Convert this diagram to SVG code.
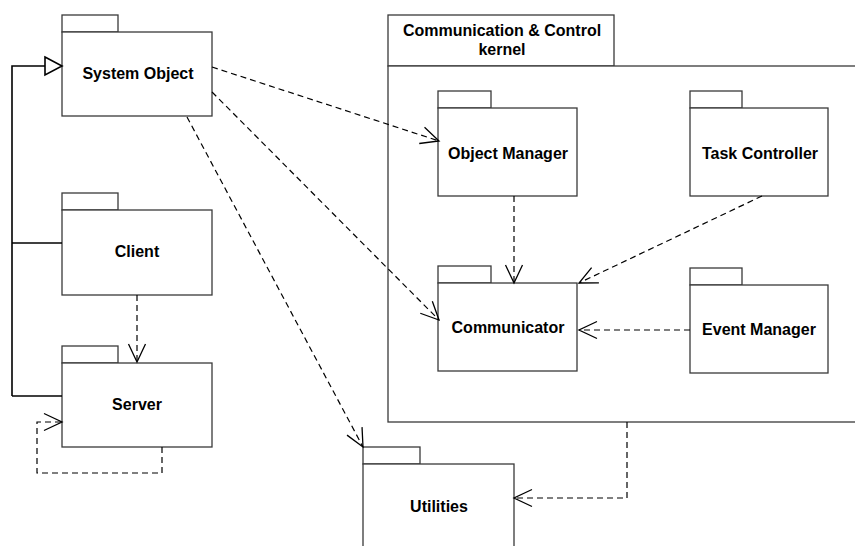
<svg xmlns="http://www.w3.org/2000/svg" width="855" height="546" viewBox="0 0 855 546">
<style>
.box{fill:#fff;stroke:#3a3a3a;stroke-width:1.3}
.lbl{font-family:"Liberation Sans",Arial,sans-serif;font-weight:bold;font-size:16px;text-anchor:middle;fill:#000}
.dep{fill:none;stroke:#000;stroke-width:1.2;stroke-dasharray:6 4}
.gen{fill:none;stroke:#000;stroke-width:1.6}
</style>
<defs>
<marker id="open" markerUnits="userSpaceOnUse" markerWidth="24" markerHeight="24" viewBox="-20 -12 24 24" refX="0" refY="0" orient="auto">
<path d="M-18,-8.5 L0,0 L-18,8.5" fill="none" stroke="#000" stroke-width="1.3" stroke-dasharray="none"/>
</marker>
</defs>
<rect x="0" y="0" width="855" height="546" fill="#fff"/>

<g id="kernel">
<rect class="box" x="388" y="15" width="226" height="51"/>
<rect class="box" x="388" y="66" width="480" height="356"/>
<text class="lbl" x="502" y="36">Communication &amp; Control</text>
<text class="lbl" x="502" y="55">kernel</text>
</g>

<g id="system-object">
<rect class="box" x="62" y="15" width="56" height="17"/>
<rect class="box" x="62" y="32" width="150" height="84"/>
<text class="lbl" x="138" y="79">System Object</text>
</g>

<g id="client">
<rect class="box" x="62" y="193" width="56" height="17"/>
<rect class="box" x="62" y="210" width="150" height="85"/>
<text class="lbl" x="137" y="257">Client</text>
</g>

<g id="server">
<rect class="box" x="62" y="346" width="56" height="17"/>
<rect class="box" x="62" y="363" width="150" height="84"/>
<text class="lbl" x="137" y="410">Server</text>
</g>

<g id="object-manager">
<rect class="box" x="438" y="91" width="53" height="17"/>
<rect class="box" x="438" y="108" width="139" height="88"/>
<text class="lbl" x="508" y="159">Object Manager</text>
</g>

<g id="task-controller">
<rect class="box" x="690" y="91" width="52" height="17"/>
<rect class="box" x="690" y="108" width="138" height="88"/>
<text class="lbl" x="760" y="159">Task Controller</text>
</g>

<g id="communicator">
<rect class="box" x="438" y="266" width="53" height="17"/>
<rect class="box" x="438" y="283" width="139" height="88"/>
<text class="lbl" x="508" y="333">Communicator</text>
</g>

<g id="event-manager">
<rect class="box" x="690" y="268" width="52" height="17"/>
<rect class="box" x="690" y="285" width="138" height="88"/>
<text class="lbl" x="759" y="335">Event Manager</text>
</g>

<g id="utilities">
<rect class="box" x="363" y="447" width="57" height="17"/>
<rect class="box" x="363" y="464" width="151" height="100"/>
<text class="lbl" x="439" y="512">Utilities</text>
</g>

<g id="connectors">
<path class="gen" d="M12,396 L12,66 L45,66"/>
<path class="gen" d="M12,243 L62,243"/>
<path class="gen" d="M12,396 L62,396"/>
<path d="M45,57 L62,66 L45,75 Z" fill="#fff" stroke="#000" stroke-width="1.6"/>
<path class="dep" d="M137,295 L137,362" marker-end="url(#open)"/>
<path class="dep" d="M162,447 L162,473 L37,473 L37,422 L62,422" marker-end="url(#open)"/>
<path class="dep" d="M212,67 L439,141" marker-end="url(#open)"/>
<path class="dep" d="M212,92 L439,320" marker-end="url(#open)"/>
<path class="dep" d="M187,117 L363,447" marker-end="url(#open)"/>
<path class="dep" d="M514,196 L514,283" marker-end="url(#open)"/>
<path class="dep" d="M762,196 L579,283" marker-end="url(#open)"/>
<path class="dep" d="M690,330 L579,330" marker-end="url(#open)"/>
<path class="dep" d="M627,422 L627,498 L514,498" marker-end="url(#open)"/>
</g>
</svg>
